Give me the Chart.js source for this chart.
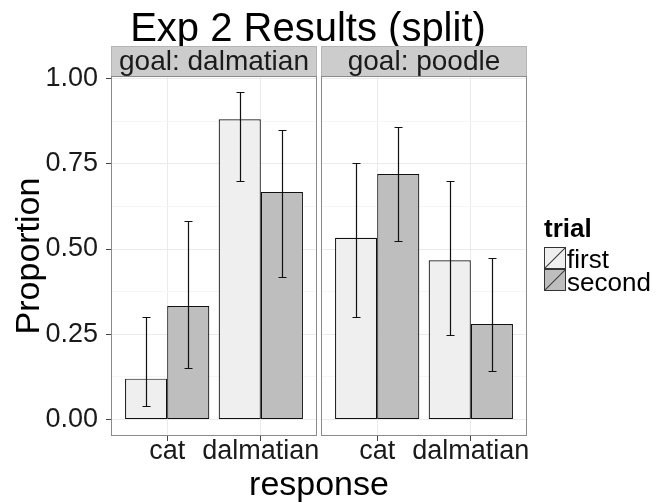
<!DOCTYPE html>
<html>
<head>
<meta charset="utf-8">
<script src="https://cdn.jsdelivr.net/npm/chart.js@4"></script>
<style>
  html, body { margin: 0; padding: 0; background: #ffffff; }
  #wrap { position: relative; width: 669px; height: 503px; overflow: hidden; font-family: "Liberation Sans", Arial, sans-serif; color: #000; }
  .cv { position: absolute; left: 0; top: 0; }
  .txt { position: absolute; white-space: nowrap; line-height: 1; }
  .strip { position: absolute; top: 46px; height: 30px; background: #cccccc; box-sizing: border-box; border: 1px solid #b5b5b5; border-bottom: none; }
  .strip span { position: absolute; left: 0; right: 0; top: 0px; text-align: center; font-size: 28px; line-height: 1; color: #1a1a1a; }
  .key { position: absolute; left: 544px; width: 22px; height: 22px; box-sizing: border-box; border: 1px solid #333; }
</style>
</head>
<body>
<div id="wrap">
  <canvas id="c1" class="cv" width="669" height="503"></canvas>
  <canvas id="c2" class="cv" width="669" height="503"></canvas>
  <div class="txt" id="title" style="font-size:40px; top:7px; left:308px; transform:translateX(-50%);"></div>
  <div class="strip" style="left:111px; width:206px;"><span id="s1"></span></div>
  <div class="strip" style="left:321px; width:206px;"><span id="s2"></span></div>
  <div class="txt" id="xtitle" style="font-size:34px; top:466px; left:319px; transform:translateX(-50%);"></div>
  <div class="txt" id="ltitle" style="font-size:26px; font-weight:bold; top:215px; left:544px;"></div>
  <div class="key" id="k1" style="top:247px;"></div>
  <div class="key" id="k2" style="top:269px;"></div>
  <div class="txt" id="l1" style="font-size:26px; top:246px; left:567px;"></div>
  <div class="txt" id="l2" style="font-size:26px; top:269px; left:567px;"></div>
</div>
<script>
// ---- data ----
const chartTitle = 'Exp 2 Results (split)';
const responses = ['cat', 'dalmatian'];
const goals = ['goal: dalmatian', 'goal: poodle'];
const trials = ['first', 'second'];
const xTitle = 'response';
const yTitle = 'Proportion';
const legendTitle = 'trial';
const yTicks = [0, 0.25, 0.5, 0.75, 1.0];
const yMinorTicks = [0.125, 0.375, 0.625, 0.875];

// goal: dalmatian
const dalmFirst = [0.12, 0.88];
const dalmFirstLo = [0.04, 0.70];
const dalmFirstHi = [0.30, 0.96];
const dalmSecond = [0.333, 0.667];
const dalmSecondLo = [0.15, 0.417];
const dalmSecondHi = [0.583, 0.848];

// goal: poodle
const poodFirst = [0.533, 0.467];
const poodFirstLo = [0.30, 0.248];
const poodFirstHi = [0.752, 0.698];
const poodSecond = [0.72, 0.28];
const poodSecondLo = [0.524, 0.142];
const poodSecondHi = [0.857, 0.475];

// ---- styles ----
const FONT = '"Liberation Sans", Arial, sans-serif';
const fillColors = ['#efefef', '#bebebe'];
const barBorder = '#111111';
const errColor = '#111111';
const panelBorder = '#8a8a8a';
const gridMajor = '#ebebeb';
const gridMinor = '#f6f6f6';
const yMin = -0.048, yMax = 1.007;

document.getElementById('title').textContent = chartTitle;
document.getElementById('s1').textContent = goals[0];
document.getElementById('s2').textContent = goals[1];
document.getElementById('xtitle').textContent = xTitle;
document.getElementById('ltitle').textContent = legendTitle;
document.getElementById('l1').textContent = trials[0];
document.getElementById('l2').textContent = trials[1];
function keyBg(c) {
  return 'linear-gradient(to bottom right, transparent calc(50% - 1px), #444 50%, transparent calc(50% + 1px)), ' + c;
}
document.getElementById('k1').style.background = keyBg(fillColors[0]);
document.getElementById('k2').style.background = keyBg(fillColors[1]);

const allY = yTicks.concat(yMinorTicks).sort((a, b) => a - b);
const isMajor = v => yTicks.some(t => Math.abs(t - v) < 1e-9);

const errorBars = {
  id: 'errorBars',
  afterDatasetsDraw(chart) {
    const ctx = chart.ctx;
    const ys = chart.scales.y;
    ctx.save();
    ctx.strokeStyle = errColor;
    ctx.lineWidth = 1.2;
    chart.data.datasets.forEach((ds, di) => {
      const meta = chart.getDatasetMeta(di);
      meta.data.forEach((el, i) => {
        const x = Math.round(el.x) + 0.5;
        const lo = Math.round(ys.getPixelForValue(ds.lo[i])) + 0.5;
        const hi = Math.round(ys.getPixelForValue(ds.hi[i])) + 0.5;
        ctx.beginPath();
        ctx.moveTo(x, lo); ctx.lineTo(x, hi);
        ctx.moveTo(x - 4, lo); ctx.lineTo(x + 4, lo);
        ctx.moveTo(x - 4, hi); ctx.lineTo(x + 4, hi);
        ctx.stroke();
      });
    });
    const a = chart.chartArea;
    ctx.lineWidth = 1;
    ctx.strokeStyle = panelBorder;
    ctx.strokeRect(Math.round(a.left) + 0.5, Math.round(a.top) + 0.5, Math.round(a.right - a.left) - 1, Math.round(a.bottom - a.top) - 1);
    ctx.restore();
  }
};

function makeDataset(label, vals, lo, hi, idx) {
  return {
    label: label,
    data: responses.map((r, i) => ({ x: i, y: vals[i] })),
    lo: lo, hi: hi,
    backgroundColor: fillColors[idx],
    borderColor: barBorder,
    borderWidth: 1.2,
    borderSkipped: false,
    categoryPercentage: 0.9,
    barPercentage: 1.0
  };
}

function makeChart(id, datasets, isLeft) {
  const padding = isLeft ? { left: 0, top: 76, right: 669 - 317, bottom: 27 }
                         : { left: 321, top: 76, right: 669 - 527, bottom: 27 };
  return new Chart(document.getElementById(id), {
    type: 'bar',
    data: { datasets: datasets },
    plugins: [errorBars],
    options: {
      responsive: false,
      animation: false,
      events: [],
      layout: { padding: padding },
      plugins: { legend: { display: false }, tooltip: { enabled: false }, title: { display: false } },
      scales: {
        x: {
          type: 'linear',
          min: -0.6, max: 1.6,
          bounds: 'data',
          offset: false,
          afterBuildTicks: s => { s.ticks = responses.map((r, i) => ({ value: i })); },
          afterFit: s => { s.height = 40; },
          border: { display: false },
          grid: { offset: false, color: gridMajor, lineWidth: 1, drawTicks: true, tickLength: 5, tickColor: '#444' },
          ticks: {
            autoSkip: false, maxRotation: 0, padding: -3,
            color: '#1a1a1a',
            font: { family: FONT, size: 27, lineHeight: 1 },
            callback: v => responses[v]
          }
        },
        y: {
          type: 'linear',
          min: yMin, max: yMax,
          bounds: 'data',
          afterBuildTicks: s => { s.ticks = allY.map(v => ({ value: v })); },
          afterFit: s => { s.width = isLeft ? 111 : 0; },
          border: { display: false },
          grid: {
            color: c => (c.tick && !isMajor(c.tick.value)) ? gridMinor : gridMajor,
            drawTicks: isLeft, tickLength: 5,
            tickColor: c => (c.tick && isMajor(c.tick.value)) ? '#444' : 'rgba(0,0,0,0)'
          },
          ticks: {
            display: isLeft, autoSkip: false, padding: 8,
            color: '#1a1a1a',
            font: { family: FONT, size: 27, lineHeight: 1 },
            callback: v => isMajor(v) ? v.toFixed(2) : ''
          },
          title: {
            display: isLeft, text: yTitle, color: '#000',
            font: { family: FONT, size: 34, lineHeight: 1 },
            padding: { top: 13, bottom: 0 }
          }
        }
      }
    }
  });
}

makeChart('c1', [
  makeDataset(trials[0], dalmFirst, dalmFirstLo, dalmFirstHi, 0),
  makeDataset(trials[1], dalmSecond, dalmSecondLo, dalmSecondHi, 1)
], true);
makeChart('c2', [
  makeDataset(trials[0], poodFirst, poodFirstLo, poodFirstHi, 0),
  makeDataset(trials[1], poodSecond, poodSecondLo, poodSecondHi, 1)
], false);
</script>
</body>
</html>
